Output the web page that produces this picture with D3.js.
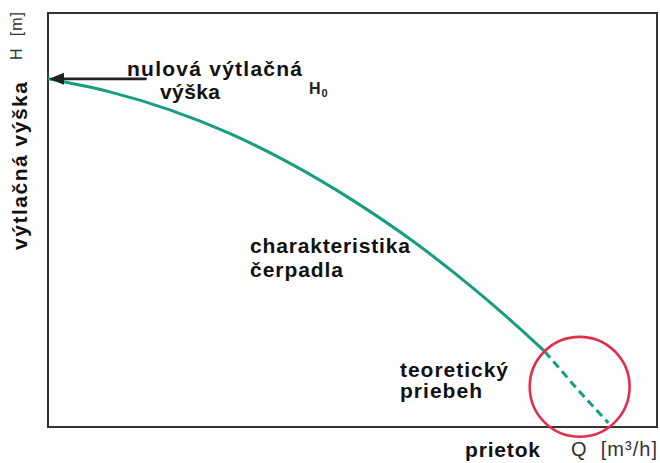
<!DOCTYPE html>
<html>
<head>
<meta charset="utf-8">
<script src="https://cdn.jsdelivr.net/npm/d3@7"></script>
<style>
  html, body { margin: 0; padding: 0; background: #fff; }
  svg { display: block; }
  text { font-family: "Liberation Sans", Arial, Helvetica, sans-serif; }
</style>
</head>
<body>
<svg id="chart" width="660" height="463"></svg>
<script>
// Pump characteristic: delivery head H versus flow rate Q (relative units)
const flowMeasured = [0, 10, 20, 30, 40, 50, 60, 70, 80, 81.6];
const headMeasured = [84.1, 81.0, 76.6, 70.8, 63.5, 54.8, 44.8, 33.3, 20.4, 18.2];
// theoretical continuation towards zero head
const flowTheory = [81.6, 87, 92];
const headTheory = [18.2, 9.0, 1.0];
// highlighted region around the theoretical tail
const highlightCenter = [87.3, 9.7];
const highlightRadiusQ = 8.2;
// shut-off head arrow starts here (flow units)
const arrowStartQ = 16.2;

const svg = d3.select("#chart");
const margin = { left: 48, right: 3, top: 13, bottom: 36 };
const W = 660, H = 463;

const x = d3.scaleLinear().domain([0, 100]).range([margin.left, W - margin.right]);
const y = d3.scaleLinear().domain([0, 100]).range([H - margin.bottom, margin.top]);

const teal = "#169e80";
const red = "#e0304c";

// plot frame
svg.append("rect")
  .attr("x", x(0)).attr("y", y(100))
  .attr("width", x(100) - x(0)).attr("height", y(0) - y(100))
  .attr("fill", "none").attr("stroke", "#333").attr("stroke-width", 2);

const line = d3.line()
  .x(d => x(d[0])).y(d => y(d[1]))
  .curve(d3.curveMonotoneX);

const solid = flowMeasured.map((q, i) => [q, headMeasured[i]]);
const dashed = flowTheory.map((q, i) => [q, headTheory[i]]);

svg.append("path").datum(solid)
  .attr("d", line).attr("fill", "none")
  .attr("stroke", teal).attr("stroke-width", 3);

svg.append("path").datum(dashed)
  .attr("d", d3.line().x(d => x(d[0])).y(d => y(d[1])))
  .attr("fill", "none")
  .attr("stroke", teal).attr("stroke-width", 3)
  .attr("stroke-dasharray", "8,5");

// highlight circle
svg.append("circle")
  .attr("cx", x(highlightCenter[0])).attr("cy", y(highlightCenter[1]))
  .attr("r", x(highlightRadiusQ) - x(0))
  .attr("fill", "none").attr("stroke", red).attr("stroke-width", 2.6);

// arrow towards shut-off head H0
const ay = y(headMeasured[0]);
const tipX = x(0) + 1;
svg.append("line")
  .attr("x1", x(arrowStartQ)).attr("y1", ay)
  .attr("x2", tipX + 12).attr("y2", ay)
  .attr("stroke", "#222").attr("stroke-width", 2.8);
svg.append("path")
  .attr("d", `M${tipX},${ay} L${tipX + 15},${ay - 6} L${tipX + 15},${ay + 6} Z`)
  .attr("fill", "#222");

// labels
function label(txt, px, py, len, opts = {}) {
  const t = svg.append("text")
    .attr("x", px).attr("y", py)
    .attr("font-size", opts.size || 21)
    .attr("font-weight", opts.weight || "bold")
    .attr("fill", opts.fill || "#111")
    .style("white-space", "pre")
    .text(txt);
  if (len) t.attr("textLength", len).attr("lengthAdjust", "spacing");
  return t;
}

label("nulová výtlačná", 127, 76, 175);
label("výška", 160, 99, 60);
const h0 = svg.append("text")
  .attr("x", 309).attr("y", 94)
  .attr("font-size", 16).attr("font-weight", "bold").attr("fill", "#222");
h0.append("tspan").text("H");
h0.append("tspan").attr("font-size", 11).attr("dy", 3).attr("dx", 1).text("0");

label("charakteristika", 250, 253, 160);
label("čerpadla", 250, 277, 93);
label("teoretický", 400, 377, 108);
label("priebeh", 400, 398, 82);
label("prietok", 465, 457, 75);
label("Q  [m³/h]", 571, 456, 86, { size: 20, weight: "normal", fill: "#333" });

// vertical axis titles
svg.append("text")
  .attr("transform", "translate(27,250) rotate(-90)")
  .attr("font-size", 21).attr("font-weight", "bold").attr("fill", "#111")
  .attr("textLength", 168).attr("lengthAdjust", "spacing")
  .text("výtlačná výška");
svg.append("text")
  .attr("transform", "translate(22,60) rotate(-90)")
  .attr("font-size", 16).attr("fill", "#333")
  .style("white-space", "pre")
  .attr("textLength", 48).attr("lengthAdjust", "spacing")
  .text("H  [m]");
</script>
</body>
</html>
